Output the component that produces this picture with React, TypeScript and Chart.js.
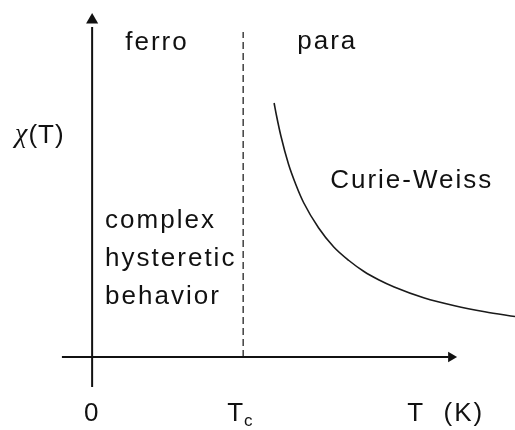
import React, { useEffect, useRef } from "react";
import { Chart, registerables } from "chart.js";

Chart.register(...registerables);

// Axis ranges in reduced units (T / Tc, chi arbitrary)
const T_MIN = -0.61;
const T_MAX = 2.8;
const CHI_MIN = -0.73;
const CHI_MAX = 3.57;
const TC = 1;

// Curie-Weiss branch (T > Tc)
const curieT = [1.205, 1.22, 1.25, 1.3, 1.35, 1.4, 1.5, 1.6, 1.7, 1.8, 1.9, 2.0, 2.2, 2.4, 2.6, 2.8];
const curieChi = [2.54, 2.42, 2.21, 1.93, 1.72, 1.545, 1.29, 1.1, 0.965, 0.855, 0.77, 0.7, 0.59, 0.513, 0.453, 0.405];

// Axis extents
const yAxisT = [0, 0];
const yAxisChi = [-0.3, 3.3];
const yArrow = { x: 0, y: 3.37 };
const xAxisT = [-0.2, 2.36];
const xAxisChi = [0, 0];
const xArrow = { x: 2.377, y: 0 };
const tcLineChi = [0, 3.25];

// Tick labels on the T axis
const tickLabels = ["0", "T", "T  (K)"];
const tickValues = [0, TC, 2.086];

// Region annotations
const regionLabels = ["ferro", "para", "Curie-Weiss"];
const regionT = [0.219, 1.358, 1.576];
const regionChi = [3.07, 3.08, 1.69];
const hystLines = ["complex", "hysteretic", "behavior"];
const hystChi = [1.29, 0.91, 0.53];
const hystT = 0.086;

const FONT = '26px "Liberation Sans", Arial, sans-serif';
const INK = "#111111";

const textPlugin = {
  id: "schematicText",
  afterDatasetsDraw(chart: any) {
    const { ctx, scales } = chart;
    const xs = scales.x;
    const ys = scales.y;
    const px = (v: number) => xs.getPixelForValue(v);
    const py = (v: number) => ys.getPixelForValue(v);
    ctx.save();
    ctx.fillStyle = INK;
    ctx.textBaseline = "alphabetic";
    ctx.font = FONT;
    try { (ctx as any).letterSpacing = "2px"; } catch (e) {}
    ctx.textAlign = "left";
    regionLabels.forEach((s, i) => ctx.fillText(s, px(regionT[i]), py(regionChi[i])));
    hystLines.forEach((s, i) => ctx.fillText(s, px(hystT), py(hystChi[i])));

    // tick labels
    const tickY = py(-0.635);
    ctx.textAlign = "center";
    ctx.fillText(tickLabels[0], px(tickValues[0]), tickY);
    ctx.textAlign = "left";
    ctx.fillText(tickLabels[1], px(0.894), tickY);
    const tw = ctx.measureText(tickLabels[1]).width;
    ctx.font = '17px "Liberation Sans", Arial, sans-serif';
    try { (ctx as any).letterSpacing = "0px"; } catch (e) {}
    ctx.fillText("c", px(0.894) + tw - 1, tickY + 5);
    ctx.font = FONT;
    try { (ctx as any).letterSpacing = "2px"; } catch (e) {}
    ctx.fillText(tickLabels[2], px(tickValues[2]), tickY);

    // axis title chi(T)
    const ax = px(-0.51);
    const ay = py(2.14);
    ctx.font = 'italic 28px "Liberation Serif", serif';
    try { (ctx as any).letterSpacing = "0px"; } catch (e) {}
    ctx.fillText("χ", ax, ay - 1);
    const cw = ctx.measureText("χ").width;
    ctx.font = FONT;
    try { (ctx as any).letterSpacing = "1px"; } catch (e) {}
    ctx.fillText("(T)", ax + cw + 1, ay);
    ctx.restore();
  },
};

export default function App() {
  const ref = useRef<HTMLCanvasElement | null>(null);
  useEffect(() => {
    if (!ref.current) return;
    const line = (xs: number[], ys: number[], extra: any) => ({
      type: "line",
      data: xs.map((x, i) => ({ x, y: ys[i] })),
      pointRadius: 0,
      borderColor: INK,
      fill: false,
      clip: false,
      ...extra,
    });
    const chart = new Chart(ref.current, {
      type: "line",
      data: {
        datasets: [
          line(yAxisT, yAxisChi, { borderWidth: 2 }),
          line(xAxisT, xAxisChi, { borderWidth: 2 }),
          line([TC, TC], tcLineChi, { borderWidth: 1.2, borderDash: [7, 4] }),
          line(curieT, curieChi, { borderWidth: 1.6, cubicInterpolationMode: "monotone", borderColor: "#1a1a1a" }),
          {
            type: "scatter",
            data: [yArrow],
            pointStyle: "triangle",
            rotation: 0,
            pointRadius: 7,
            backgroundColor: INK,
            borderWidth: 0,
            clip: false,
          },
          {
            type: "scatter",
            data: [xArrow],
            pointStyle: "triangle",
            rotation: 90,
            pointRadius: 6,
            backgroundColor: INK,
            borderWidth: 0,
            clip: false,
          },
        ] as any,
      },
      options: {
        responsive: false,
        animation: false,
        events: [],
        layout: { padding: 0, autoPadding: false },
        plugins: { legend: { display: false }, tooltip: { enabled: false } },
        scales: {
          x: { type: "linear", min: T_MIN, max: T_MAX, display: false },
          y: { type: "linear", min: CHI_MIN, max: CHI_MAX, display: false },
        },
      } as any,
      plugins: [textPlugin],
    });
    return () => chart.destroy();
  }, []);
  return (
    <div style={{ position: "fixed", left: 0, top: 0, width: 515, height: 430, background: "#ffffff" }}>
      <canvas ref={ref} width={515} height={430} style={{ width: 515, height: 430, display: "block" }} />
    </div>
  );
}
